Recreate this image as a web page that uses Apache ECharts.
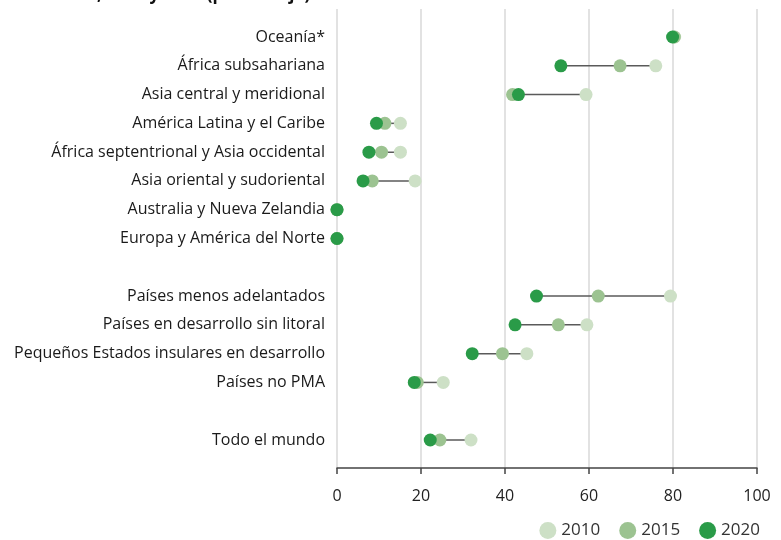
<!DOCTYPE html>
<html>
<head>
<meta charset="utf-8">
<script src="https://cdn.jsdelivr.net/npm/echarts@6/dist/echarts.min.js"></script>
<style>html,body{margin:0;padding:0;background:#fff}#c{width:781px;height:540px}</style>
</head>
<body>
<div id="c"></div>
<script>
const categories = [
  'Oceanía*',
  'África subsahariana',
  'Asia central y meridional',
  'América Latina y el Caribe',
  'África septentrional y Asia occidental',
  'Asia oriental y sudoriental',
  'Australia y Nueva Zelandia',
  'Europa y América del Norte',
  ' ',
  'Países menos adelantados',
  'Países en desarrollo sin litoral',
  'Pequeños Estados insulares en desarrollo',
  'Países no PMA',
  '  ',
  'Todo el mundo'
];
const v2010 = [80.4, 75.9, 59.3, 15.1, 15.1, 18.6, 0, 0, null, 79.4, 59.5, 45.2, 25.3, null, 31.9];
const v2015 = [80.3, 67.4, 41.8, 11.4, 10.6, 8.4, 0, 0, null, 62.2, 52.7, 39.4, 19.1, null, 24.5];
const v2020 = [79.9, 53.3, 43.2, 9.4, 7.6, 6.2, 0, 0, null, 47.5, 42.4, 32.2, 18.4, null, 22.2];
const xTicks = [0, 20, 40, 60, 80, 100];
const seriesNames = ['2010', '2015', '2020'];
const colors = ['#cde0c6', '#9cc391', '#2a9b48'];

const chart = echarts.init(document.getElementById('c'), null, {renderer: 'canvas'});
const FONT = '"Open Sans", sans-serif';

const rangeData = categories.map((c, i) => {
  const vals = [v2010[i], v2015[i], v2020[i]].filter(v => v !== null);
  if (!vals.length) return [i, null, null];
  return [i, Math.min(...vals), Math.max(...vals)];
});

const option = {
  animation: false,
  backgroundColor: '#fff',
  title: {
    text: '2010, 2015 y 2020 (porcentaje)',
    left: 53, top: -18,
    textStyle: {fontFamily: FONT, fontWeight: 'bold', fontSize: 17, color: '#111'}
  },
  legend: {
    data: seriesNames,
    right: 16, bottom: -4,
    icon: 'circle', itemWidth: 17, itemHeight: 17, itemGap: 19, itemSpacing: 7,
    textStyle: {fontFamily: FONT, fontSize: 17, color: '#333'}
  },
  grid: [
    {left: 337, right: 24, top: 9, bottom: 72},
    {left: 337, right: 24, top: 22.6, bottom: 85.6}
  ],
  xAxis: [
    {
      gridIndex: 0, type: 'value', min: 0, max: 100, interval: 20,
      offset: 8,
      axisLine: {show: true, lineStyle: {color: '#444', width: 1.5}},
      axisTick: {show: true, length: 6, lineStyle: {color: '#444', width: 1.5}},
      axisLabel: {fontFamily: FONT, fontSize: 16, color: '#222', margin: 12,
        formatter: v => xTicks.includes(v) ? String(v) : ''},
      splitLine: {show: true, lineStyle: {color: '#d8d8d8', width: 1.5}}
    },
    {gridIndex: 1, type: 'value', min: 0, max: 100, show: false}
  ],
  yAxis: [
    {gridIndex: 0, type: 'value', show: false, min: 0, max: 1},
    {
      gridIndex: 1, type: 'category', data: categories, inverse: true,
      axisLine: {show: false}, axisTick: {show: false}, splitLine: {show: false},
      axisLabel: {fontFamily: FONT, fontSize: 16, color: '#1a1a1a', margin: 12, interval: 0}
    }
  ],
  series: [
    {
      type: 'custom', xAxisIndex: 1, yAxisIndex: 1, silent: true, z: 1,
      data: rangeData,
      renderItem: (params, api) => {
        const lo = api.value(1), hi = api.value(2);
        if (lo === null || hi === null || isNaN(lo) || lo === hi) return null;
        const p1 = api.coord([lo, api.value(0)]);
        const p2 = api.coord([hi, api.value(0)]);
        return {type: 'line', shape: {x1: p1[0], y1: p1[1], x2: p2[0], y2: p2[1]},
          style: {stroke: '#5a5a5a', lineWidth: 1.5}};
      },
      encode: {x: [1, 2], y: 0}
    },
    ...[v2010, v2015, v2020].map((arr, k) => ({
      name: seriesNames[k], type: 'scatter', xAxisIndex: 1, yAxisIndex: 1,
      z: 2 + k, symbol: 'circle', symbolSize: 13,
      itemStyle: {color: colors[k], opacity: 1},
      data: arr.map((v, i) => v === null ? null : [v, i])
    }))
  ]
};
chart.setOption(option);
</script>
</body>
</html>
